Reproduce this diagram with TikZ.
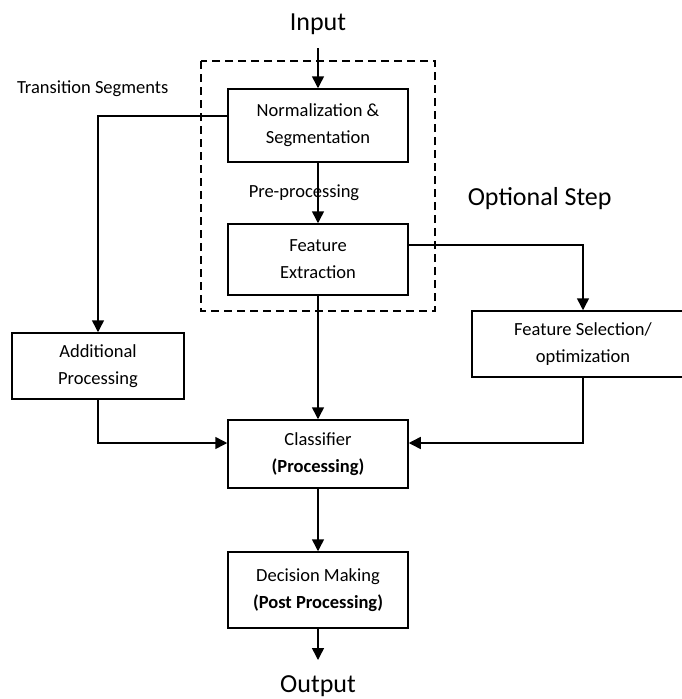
\documentclass[tikz,border=0pt]{standalone}
\usepackage{fontspec}
\setmainfont{Carlito}
\usetikzlibrary{arrows.meta}
\begin{document}
\begin{tikzpicture}[x=1pt, y=-1pt, line width=1.5pt,
  box/.style={draw, align=center, minimum width=180pt, minimum height=72pt, font=\fontsize{18.5}{27}\selectfont},
  arr/.style={-{Triangle[width=12pt,length=12pt]}},
  big/.style={font=\fontsize{26}{30}\selectfont},
  small/.style={font=\fontsize{18.5}{22}\selectfont}]
\useasboundingbox (0,0) rectangle (682,699);
\draw[dash pattern=on 8pt off 5pt] (201,61) rectangle (435,311);
\node[big, anchor=base] (input) at (318,30) {Input};
\node[big, anchor=base] (output) at (318,692) {Output};
\node[small, anchor=base west] (trans) at (13,93) {Transition Segments};
\node[small, anchor=base west, inner sep=0pt] (pre) at (248,197) {Pre-processing};
\node[big, anchor=base west, inner sep=0pt] (opt) at (467,205) {Optional Step};
\node[box, minimum height=73pt] (norm) at (318,125.5) {Normalization \&\\Segmentation};
\node[box, minimum height=71pt] (fe) at (318,259.5) {Feature\\Extraction};
\node[box, minimum height=68pt] (cls) at (318,454) {Classifier\\\textbf{(Processing)}};
\node[box, minimum height=76pt] (dec) at (318,590) {Decision Making\\\textbf{(Post Processing)}};
\node[box, minimum width=172pt, minimum height=66pt] (add) at (98,366) {Additional\\Processing};
\node[box, minimum width=222pt, minimum height=66pt] (fs) at (583,344) {Feature Selection/\\optimization};
\draw[arr] ([yshift=-18pt]input.base) -- (norm.north);
\draw[arr] (norm.south) -- (fe.north);
\draw[arr] ([yshift=9.5pt]norm.west) -| (add.north);
\draw[arr] ([yshift=14.5pt]fe.east) -| (fs.north);
\draw[arr] (fe.south) -- (cls.north);
\draw[arr] (add.south) |- ([yshift=11pt]cls.west);
\draw[arr] (fs.south) |- ([yshift=11pt]cls.east);
\draw[arr] (cls.south) -- (dec.north);
\draw[arr] (dec.south) -- ([yshift=32pt]output.base);
\end{tikzpicture}
\end{document}
